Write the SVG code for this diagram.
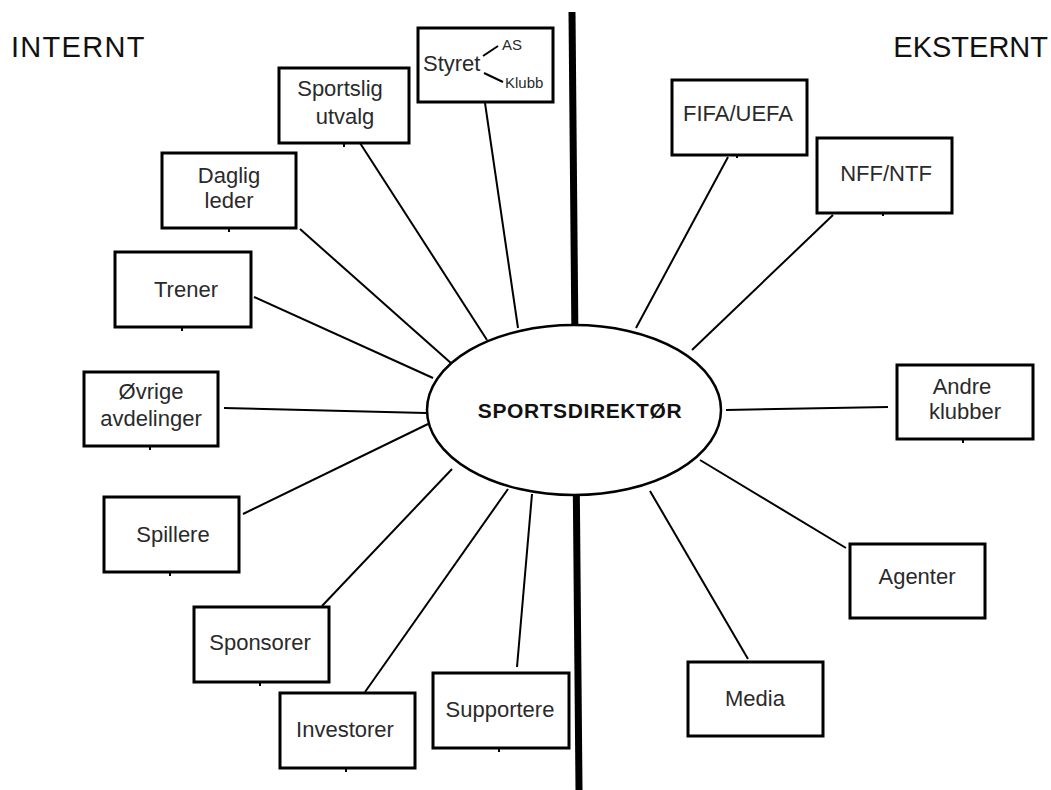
<svg xmlns="http://www.w3.org/2000/svg" width="1051" height="790" viewBox="0 0 1051 790">
  <style>
    .box { fill: #fff; stroke: #000; stroke-width: 3; }
    .lbl { font-family: "Liberation Sans", Arial, sans-serif; font-size: 22px; fill: #2a2a2a; text-anchor: middle; }
    .small { font-family: "Liberation Sans", Arial, sans-serif; font-size: 15px; fill: #2a2a2a; }
    .side { font-family: "Liberation Sans", Arial, sans-serif; font-size: 29px; fill: #111; }
    .link { stroke: #000; stroke-width: 2; fill: none; }
    .tick { stroke: #000; stroke-width: 2; }
  </style>
  <rect width="1051" height="790" fill="#fff"/>

  <!-- section headings -->
  <text class="side" x="11" y="57" letter-spacing="1.3">INTERNT</text>
  <text class="side" x="1048" y="57" text-anchor="end">EKSTERNT</text>

  <!-- divider between internal and external -->
  <line x1="572" y1="12" x2="579" y2="790" stroke="#000" stroke-width="7"/>

  <!-- connectors -->
  <g id="connectors" class="link">
    <line x1="485" y1="103" x2="518" y2="328"/>
    <line x1="360" y1="143" x2="487" y2="340"/>
    <line x1="300" y1="229" x2="452" y2="364"/>
    <line x1="254" y1="297" x2="433" y2="378"/>
    <line x1="224" y1="408" x2="426" y2="413"/>
    <line x1="243" y1="514" x2="428" y2="424"/>
    <line x1="322" y1="606" x2="452" y2="469"/>
    <line x1="365" y1="692" x2="508" y2="489"/>
    <line x1="517" y1="667" x2="532" y2="494"/>
    <line x1="728" y1="157" x2="636" y2="328"/>
    <line x1="833" y1="215" x2="692" y2="350"/>
    <line x1="726" y1="410" x2="888" y2="407"/>
    <line x1="700" y1="460" x2="846" y2="548"/>
    <line x1="650" y1="491" x2="748" y2="659"/>
  </g>

  <!-- central node -->
  <g id="sportsdirektor">
    <ellipse cx="574" cy="410" rx="147" ry="85" fill="#fff" stroke="#000" stroke-width="2.5"/>
    <text x="580" y="418" font-family="'Liberation Sans', Arial, sans-serif" font-size="21" font-weight="bold" fill="#111" text-anchor="middle" letter-spacing="0.6">SPORTSDIREKTØR</text>
  </g>

  <!-- internal stakeholders -->
  <g id="styret">
    <rect class="box" x="418" y="28" width="135" height="74"/>
    <text class="lbl" x="423" y="71" style="text-anchor:start">Styret</text>
    <line x1="483" y1="56" x2="498" y2="46" stroke="#000" stroke-width="2"/>
    <line x1="484" y1="73" x2="503" y2="82" stroke="#000" stroke-width="2"/>
    <text class="small" x="502" y="50">AS</text>
    <text class="small" x="505" y="88">Klubb</text>
  </g>

  <g id="sportslig-utvalg">
    <rect class="box" x="279" y="68" width="130" height="75"/>
    <text class="lbl" x="340" y="96">Sportslig</text>
    <text class="lbl" x="345" y="124">utvalg</text>
    <line class="tick" x1="344" y1="143" x2="344" y2="147"/>
  </g>

  <g id="daglig-leder">
    <rect class="box" x="162" y="153" width="134" height="75"/>
    <text class="lbl" x="229" y="183">Daglig</text>
    <text class="lbl" x="229" y="208">leder</text>
    <line class="tick" x1="229" y1="228" x2="229" y2="232"/>
  </g>

  <g id="trener">
    <rect class="box" x="115" y="252" width="136" height="75"/>
    <text class="lbl" x="186" y="297">Trener</text>
    <line class="tick" x1="182" y1="327" x2="182" y2="331"/>
  </g>

  <g id="ovrige-avdelinger">
    <rect class="box" x="84" y="372" width="134" height="74"/>
    <text class="lbl" x="151" y="399">Øvrige</text>
    <text class="lbl" x="151" y="426">avdelinger</text>
    <line class="tick" x1="150" y1="446" x2="150" y2="450"/>
  </g>

  <g id="spillere">
    <rect class="box" x="104" y="497" width="135" height="75"/>
    <text class="lbl" x="173" y="542">Spillere</text>
    <line class="tick" x1="170" y1="572" x2="170" y2="576"/>
  </g>

  <g id="sponsorer">
    <rect class="box" x="194" y="607" width="135" height="75"/>
    <text class="lbl" x="260" y="650">Sponsorer</text>
    <line class="tick" x1="260" y1="682" x2="260" y2="686"/>
  </g>

  <g id="investorer">
    <rect class="box" x="280" y="693" width="135" height="75"/>
    <text class="lbl" x="345" y="737">Investorer</text>
    <line class="tick" x1="346" y1="768" x2="346" y2="772"/>
  </g>

  <g id="supportere">
    <rect class="box" x="433" y="673" width="136" height="75"/>
    <text class="lbl" x="500" y="717">Supportere</text>
    <line class="tick" x1="499" y1="748" x2="499" y2="752"/>
  </g>

  <!-- external stakeholders -->
  <g id="fifa-uefa">
    <rect class="box" x="672" y="80" width="135" height="75"/>
    <text class="lbl" x="738" y="121">FIFA/UEFA</text>
    <line class="tick" x1="737" y1="155" x2="737" y2="158"/>
  </g>

  <g id="nff-ntf">
    <rect class="box" x="817" y="138" width="135" height="75"/>
    <text class="lbl" x="886" y="181">NFF/NTF</text>
    <line class="tick" x1="883" y1="213" x2="883" y2="216"/>
  </g>

  <g id="andre-klubber">
    <rect class="box" x="897" y="365" width="136" height="74"/>
    <text class="lbl" x="962" y="394">Andre</text>
    <text class="lbl" x="965" y="419">klubber</text>
    <line class="tick" x1="963" y1="439" x2="963" y2="443"/>
  </g>

  <g id="agenter">
    <rect class="box" x="850" y="544" width="135" height="74"/>
    <text class="lbl" x="917" y="584">Agenter</text>
  </g>

  <g id="media">
    <rect class="box" x="688" y="662" width="135" height="74"/>
    <text class="lbl" x="755" y="706">Media</text>
  </g>
</svg>
